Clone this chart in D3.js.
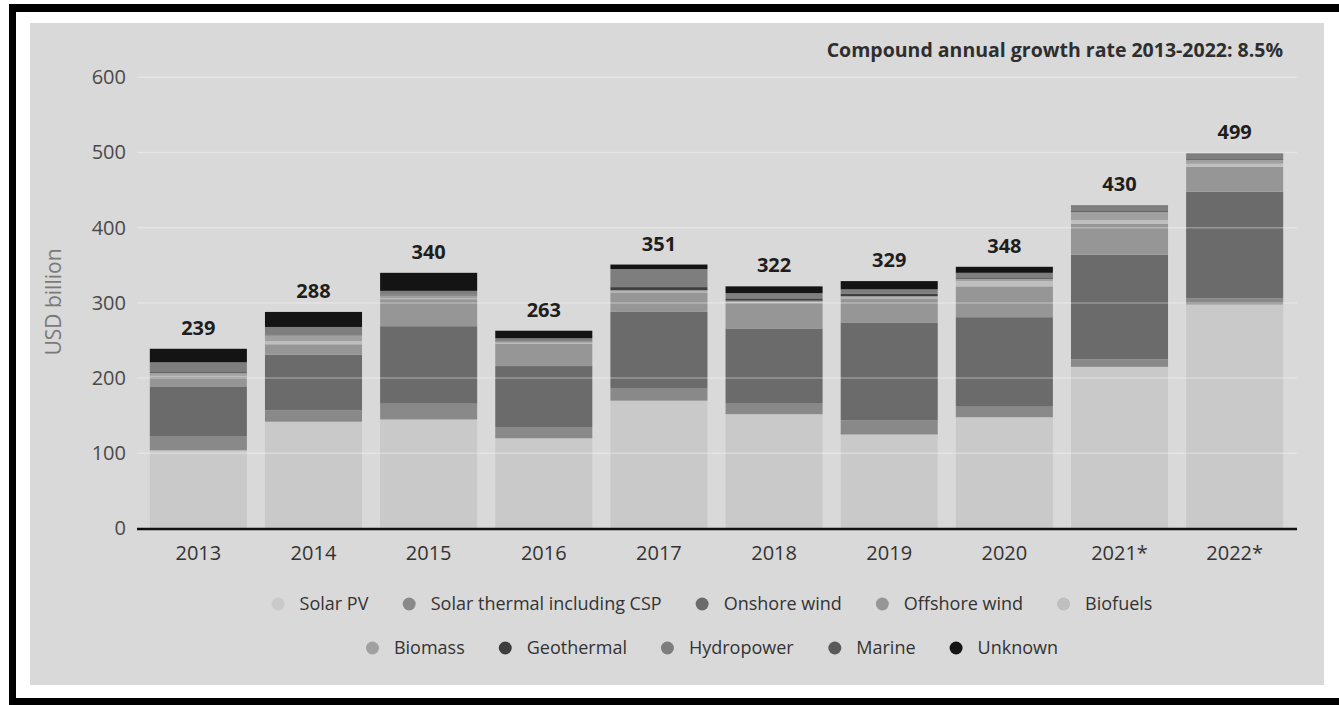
<!DOCTYPE html>
<html>
<head>
<meta charset="utf-8">
<script src="https://cdn.jsdelivr.net/npm/d3@7"></script>
<style>
  html, body { margin: 0; padding: 0; background: #fff; }
  svg { display: block; }
  text { font-family: "Open Sans", "DejaVu Sans", sans-serif; }
</style>
</head>
<body>
<svg id="chart" width="1339" height="705"></svg>
<script>
// Investment in renewable energy by technology, USD billion
const years = ["2013", "2014", "2015", "2016", "2017", "2018", "2019", "2020", "2021*", "2022*"];
const totals = [239, 288, 340, 263, 351, 322, 329, 348, 430, 499];

const solarPV      = [104, 142, 145, 120, 170, 152, 125, 148, 215, 298];
const solarThermal = [19, 15, 21, 15, 16, 14, 19, 14, 10, 8];
const onshoreWind  = [66, 74, 103, 81, 102, 100, 130, 119, 139, 142];
const offshoreWind = [13, 14, 36, 30, 26, 34, 32, 41, 41, 33];
const biofuels     = [1, 4, 1, 1, 1, 1, 1, 7, 5, 4];
const biomass      = [4, 8, 4, 2, 2, 2, 2, 3, 11, 5];
const geothermal   = [1, 1, 1, 1, 4, 3, 3, 1, 1, 1];
const hydropower   = [13, 10, 5, 3, 24, 7, 6, 7, 8, 8];
const marine       = [0, 0, 0, 0, 0, 0, 0, 0, 0, 0];
const unknown      = [18, 20, 24, 10, 6, 9, 11, 8, 0, 0];

const seriesNames = ["Solar PV", "Solar thermal including CSP", "Onshore wind", "Offshore wind", "Biofuels",
                     "Biomass", "Geothermal", "Hydropower", "Marine", "Unknown"];
const seriesValues = [solarPV, solarThermal, onshoreWind, offshoreWind, biofuels,
                      biomass, geothermal, hydropower, marine, unknown];
const seriesColors = ["#c9c9c9", "#898989", "#6b6b6b", "#969696", "#bfbfbf",
                      "#a0a0a0", "#3e3e3e", "#7e7e7e", "#5a5a5a", "#141414"];
const yTicks = [0, 100, 200, 300, 400, 500, 600];
const titleText = "Compound annual growth rate 2013-2022: 8.5%";
const yAxisTitle = "USD billion";

const svg = d3.select("#chart");

// outer frame and panel
svg.append("rect").attr("x", 9).attr("y", 4).attr("width", 1345).attr("height", 710).attr("fill", "#000");
svg.append("rect").attr("x", 16).attr("y", 12).attr("width", 1330).attr("height", 686).attr("fill", "#fff");
svg.append("rect").attr("x", 30).attr("y", 23).attr("width", 1294).attr("height", 662).attr("fill", "#d9d9d9");

// table for stacking
const rows = years.map((yr, i) => {
  const r = { year: yr, total: totals[i] };
  seriesNames.forEach((n, k) => { r[n] = seriesValues[k][i]; });
  return r;
});

const x = d3.scaleBand().domain(years).range([136, 1297]).paddingInner(0.157).paddingOuter(0.12);
const y = d3.scaleLinear().domain([0, 600]).range([528.5, 77.3]);
const color = d3.scaleOrdinal().domain(seriesNames).range(seriesColors);

const stack = d3.stack().keys(seriesNames)(rows);

const g = svg.append("g");

g.selectAll("g.layer")
  .data(stack)
  .join("g")
  .attr("class", "layer")
  .attr("fill", d => color(d.key))
  .selectAll("rect")
  .data(d => d)
  .join("rect")
  .attr("x", d => x(d.data.year))
  .attr("width", x.bandwidth())
  .attr("y", d => y(d[1]))
  .attr("height", d => Math.max(0, y(d[0]) - y(d[1])));

// faint gridlines over the bars
g.append("g")
  .selectAll("line")
  .data(yTicks.filter(t => t > 0))
  .join("line")
  .attr("x1", 137).attr("x2", 1297)
  .attr("y1", d => y(d)).attr("y2", d => y(d))
  .attr("stroke", "#ffffff")
  .attr("stroke-opacity", 0.3)
  .attr("stroke-width", 1.5);

// y axis
const yAxis = svg.append("g")
  .attr("transform", "translate(137,0)")
  .call(d3.axisLeft(y).tickValues(yTicks).tickSize(0).tickPadding(11));
yAxis.select(".domain").remove();
yAxis.selectAll("text")
  .attr("fill", "#4a4a4a")
  .style("font-size", "20px")
  .style("font-family", "'Open Sans', sans-serif");

// x axis
const xAxis = svg.append("g")
  .attr("transform", `translate(0,${y(0)})`)
  .call(d3.axisBottom(x).tickSize(0).tickPadding(17));
xAxis.select(".domain").remove();
xAxis.selectAll("text")
  .attr("fill", "#333")
  .style("font-size", "20px")
  .style("font-family", "'Open Sans', sans-serif");

svg.append("line")
  .attr("x1", 137).attr("x2", 1297)
  .attr("y1", y(0) + 0.5).attr("y2", y(0) + 0.5)
  .attr("stroke", "#111").attr("stroke-width", 2.5);

// totals above bars
svg.append("g")
  .selectAll("text")
  .data(rows)
  .join("text")
  .attr("x", d => x(d.year) + x.bandwidth() / 2)
  .attr("y", d => y(d.total) - 14)
  .attr("text-anchor", "middle")
  .attr("fill", "#1e1e1e")
  .style("font-size", "20px")
  .style("font-weight", "700")
  .text(d => d.total);

// y axis title
svg.append("text")
  .attr("transform", "translate(53,302) rotate(-90)")
  .attr("text-anchor", "middle")
  .attr("dominant-baseline", "central")
  .attr("fill", "#7a7a7a")
  .style("font-size", "21px")
  .text(yAxisTitle);

// growth rate note
svg.append("text")
  .attr("x", 1283)
  .attr("y", 57)
  .attr("text-anchor", "end")
  .attr("fill", "#2e2e2e")
  .style("font-size", "19.5px")
  .style("font-weight", "700")
  .text(titleText);

// legend in two centred rows
const legendRows = [seriesNames.slice(0, 5), seriesNames.slice(5)];
const legendY = [604, 648];
const r = 6.5, textGap = 15, itemGap = 34;
legendRows.forEach((names, ri) => {
  const row = svg.append("g");
  const items = row.selectAll("g").data(names).join("g");
  items.append("circle").attr("r", r).attr("cx", r).attr("cy", 0).attr("fill", d => color(d));
  items.append("text")
    .attr("x", 2 * r + textGap)
    .attr("y", 0)
    .attr("dy", "0.35em")
    .attr("fill", "#333")
    .style("font-size", "18px")
    .text(d => d);
  let offset = 0;
  items.each(function () {
    const w = this.getBBox().width;
    d3.select(this).attr("transform", `translate(${offset},${legendY[ri]})`);
    offset += w + itemGap;
  });
  const total = offset - itemGap;
  row.attr("transform", `translate(${712 - total / 2},0)`);
});
</script>
</body>
</html>
